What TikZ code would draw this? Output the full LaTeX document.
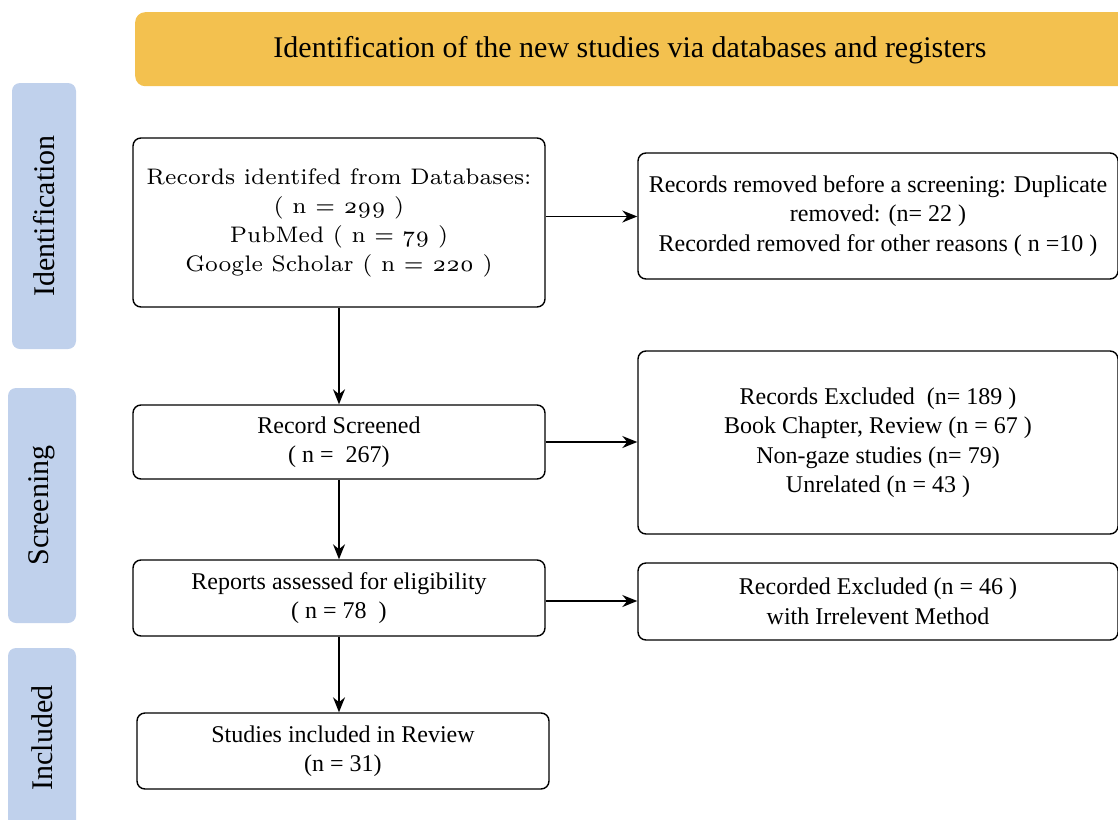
\documentclass[tikz,border=0pt]{standalone}
\usepackage{fontspec}
\setmainfont{Liberation Serif}
\newfontfamily\lmr{lmroman7-regular}[Extension=.otf, Numbers=OldStyle]
\usetikzlibrary{arrows.meta}
\definecolor{banner}{HTML}{F3C14F}
\definecolor{phase}{HTML}{C0D1EC}
\tikzset{
  flowbox/.style={draw=black, line width=1.4pt, rounded corners=8pt, fill=white,
    inner sep=0pt, align=center, font=\fontsize{24}{29.5}\selectfont},
  phasebox/.style={fill=phase, rounded corners=8pt, rotate=90, inner sep=0pt,
    font=\fontsize{30}{34}\selectfont},
  arr/.style={line width=1.4pt, -{Stealth[length=15pt,width=12pt]}}
}
\begin{document}
\begin{tikzpicture}[x=1pt,y=-1pt]
\useasboundingbox (0,0) rectangle (1118,819);
% banner
\node[fill=banner, rounded corners=10pt, minimum width=1000pt, minimum height=74pt,
  inner sep=0pt, anchor=north west] (banner) at (135,12) {};
\node[font=\fontsize{30}{34}\selectfont] (bannertext) at (630,50)
  {Identification of the new studies via databases and registers};
% phase labels
\node[phasebox, minimum width=266pt, minimum height=64pt] (pid) at (44,216) {Identification};
\node[phasebox, minimum width=235pt, minimum height=68pt] (psc) at (42,505.5) {Screening};
\node[phasebox, minimum width=180pt, minimum height=68pt] (pin) at (42,738) {Included};
% boxes
\node[flowbox, minimum width=412pt, minimum height=169pt, font=\lmr\fontsize{22.5}{29}\selectfont] (b1) at (339,222.5)
  {Records identifed from Databases:\\( n = 299 )\\PubMed ( n = 79 )\\Google Scholar ( n = 220 )};
\node[flowbox, minimum width=480pt, minimum height=126pt] (b2) at (878,216)
  {Records removed before a screening: Duplicate\\removed: (n= 22 )\\Recorded removed for other reasons ( n =10 )};
\node[flowbox, minimum width=412pt, minimum height=74pt] (b3) at (339,442)
  {Record Screened\\( n =\ \ 267)};
\node[flowbox, minimum width=480pt, minimum height=183pt] (b4) at (878,442.5)
  {Records Excluded\ \ (n= 189 )\\Book Chapter, Review (n = 67 )\\Non-gaze studies (n= 79)\\Unrelated (n = 43 )};
\node[flowbox, minimum width=412pt, minimum height=76pt] (b5) at (339,598)
  {Reports assessed for eligibility\\( n = 78\ \ )};
\node[flowbox, minimum width=480pt, minimum height=77pt] (b6) at (878,601.5)
  {Recorded Excluded (n = 46 )\\with Irrelevent Method};
\node[flowbox, minimum width=412pt, minimum height=76pt] (b7) at (343,751)
  {Studies included in Review\\(n = 31)};
% connectors
\draw[arr] (b1.south) -- (b1.south |- b3.north);
\draw[arr] (b3.south) -- (b3.south |- b5.north);
\draw[arr] (b5.south) -- (b5.south |- b7.north);
\draw[arr] (b1.east) ++(0,-6) coordinate (e1) -- (e1 -| b2.west);
\draw[arr] (b3.east) -- (b3.east -| b4.west);
\draw[arr] (b5.east) ++(0,3) coordinate (e5) -- (e5 -| b6.west);
\end{tikzpicture}
\end{document}
